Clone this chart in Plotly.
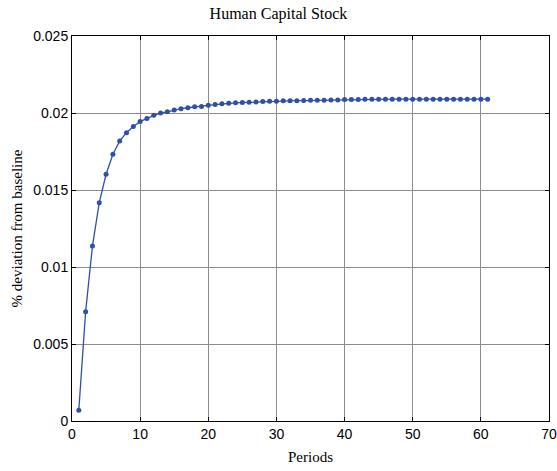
import plotly.graph_objects as go

periods = list(range(1, 62))
values = [
    0.0007, 0.0071, 0.01136, 0.01418, 0.01602, 0.01732, 0.01818, 0.01872, 0.01913, 0.01944,
    0.01965, 0.01985, 0.0200, 0.02008, 0.0202, 0.02028, 0.02034, 0.02041, 0.02043, 0.0205,
    0.02055, 0.0206, 0.02063, 0.02066, 0.02068, 0.0207, 0.02072, 0.02074, 0.02076, 0.02077,
    0.02079, 0.0208, 0.0208, 0.02081, 0.02082, 0.02082, 0.02083, 0.02084, 0.02085, 0.02087,
    0.02088, 0.02088, 0.02089, 0.02089, 0.0209, 0.0209, 0.0209, 0.0209, 0.0209, 0.0209,
    0.0209, 0.0209, 0.0209, 0.0209, 0.0209, 0.0209, 0.0209, 0.0209, 0.0209, 0.0209, 0.0209,
]
x_ticks = [0, 10, 20, 30, 40, 50, 60, 70]
y_ticks = [0, 0.005, 0.01, 0.015, 0.02, 0.025]
y_labels = ["0", "0.005", "0.01", "0.015", "0.02", "0.025"]

fig = go.Figure()
fig.add_trace(go.Scatter(
    x=periods, y=values, mode="lines+markers",
    line=dict(color="#3050a8", width=1.3),
    marker=dict(color="#3050a8", size=5),
    showlegend=False, cliponaxis=False,
))

axis_common = dict(
    showgrid=True, gridcolor="#8c8c8c", gridwidth=1,
    showline=True, linecolor="black", linewidth=1, mirror="allticks",
    ticks="inside", ticklen=4, tickcolor="black",
    zeroline=False, automargin=False,
    tickfont=dict(family="Liberation Sans, Arial", size=14, color="black"),
)

fig.update_layout(
    width=557, height=471,
    margin=dict(l=72, r=8, t=36, b=50),
    paper_bgcolor="white", plot_bgcolor="white",
    title=dict(text="Human Capital Stock", x=0.5, xanchor="center",
               y=1 - 13 / 471, yanchor="middle",
               font=dict(family="Liberation Serif, Times New Roman", size=16, color="black")),
    xaxis=dict(range=[0, 70], tickvals=x_ticks,
               title=dict(text="Periods", standoff=10,
                          font=dict(family="Liberation Serif, Times New Roman", size=15, color="black")),
               **axis_common),
    yaxis=dict(range=[0, 0.025], tickvals=y_ticks, ticktext=y_labels,
               title=dict(text="% deviation from baseline", standoff=6,
                          font=dict(family="Liberation Serif, Times New Roman", size=15, color="black")),
               **axis_common),
)

fig.write_html("out.html", config={"displayModeBar": False},
               post_script="document.body.style.margin='0';")
